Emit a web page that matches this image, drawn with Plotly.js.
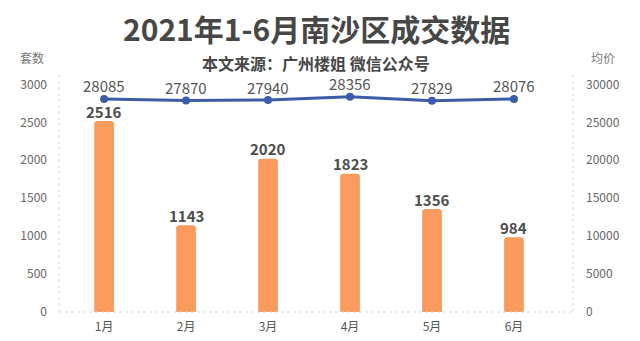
<!DOCTYPE html>
<html>
<head>
<meta charset="utf-8">
<script src="https://cdn.plot.ly/plotly-3.0.1.min.js"></script>
<style>html,body{margin:0;padding:0;background:#fff;}#chart{width:640px;height:341px;}</style>
</head>
<body>
<div id="chart"></div>
<script>
const months = ["1月","2月","3月","4月","5月","6月"];
const deals = [2516, 1143, 2020, 1823, 1356, 984];
const avgPrice = [28085, 27870, 27940, 28356, 27829, 28076];
const leftTicks = [0, 500, 1000, 1500, 2000, 2500, 3000];
const rightTicks = [0, 5000, 10000, 15000, 20000, 25000, 30000];

const FONT = '"Noto Sans CJK SC", "Noto Sans", sans-serif';

const bars = {
  type: 'bar', x: months, y: deals, yaxis: 'y',
  width: 0.24,
  marker: {color: '#fa9a5c', cornerradius: 3},
  hoverinfo: 'none'
};
const line = {
  type: 'scatter', mode: 'lines+markers', x: months, y: avgPrice, yaxis: 'y2',
  line: {color: '#3b5ca8', width: 3},
  marker: {color: '#3b5ca8', size: 8},
  cliponaxis: false,
  hoverinfo: 'none'
};

const barLabels = months.map((m, i) => ({
  x: m, y: deals[i], xref: 'x', yref: 'y', text: String(deals[i]),
  showarrow: false, xanchor: 'center', yanchor: 'middle', yshift: 10,
  font: {family: FONT, size: 15, color: '#4d4d4d', weight: 'bold'}
}));
const lineLabels = months.map((m, i) => ({
  x: m, y: avgPrice[i], xref: 'x', yref: 'y2', text: String(avgPrice[i]),
  showarrow: false, xanchor: 'center', yanchor: 'middle', yshift: 13,
  font: {family: FONT, size: 15, color: '#555555'}
}));

const layout = {
  width: 640, height: 341,
  margin: {l: 59, r: 67, t: 73, b: 29},
  paper_bgcolor: '#ffffff', plot_bgcolor: '#ffffff',
  showlegend: false,
  font: {family: FONT, color: '#666666', size: 12},
  xaxis: {range: [-0.55, 5.72], showgrid: false, zeroline: false, showline: false,
          ticks: '', ticklabelstandoff: 6, tickfont: {size: 12, color: '#555555'}, fixedrange: true},
  yaxis: {range: [0, 3150], tickvals: leftTicks, showgrid: false, zeroline: false, showline: false,
          ticks: '', ticklabelstandoff: 11, tickfont: {size: 12, color: '#666666'}},
  yaxis2: {range: [0, 31500], tickvals: rightTicks, ticktext: rightTicks.map(String),
           overlaying: 'y', side: 'right',
           showgrid: false, zeroline: false, showline: false, ticks: '', ticklabelstandoff: 12,
           tickfont: {size: 12, color: '#666666'}},
  shapes: [
    {type: 'line', xref: 'paper', yref: 'paper', x0: 0, x1: 1, y0: 0, y1: 0,
     line: {color: '#d5d5d5', width: 1, dash: 'dot'}},
    {type: 'line', xref: 'paper', yref: 'paper', x0: 0, x1: 0, y0: 0, y1: 1,
     line: {color: '#dddddd', width: 1, dash: 'dot'}},
    {type: 'line', xref: 'paper', yref: 'paper', x0: 1, x1: 1, y0: 0, y1: 1,
     line: {color: '#dddddd', width: 1, dash: 'dot'}}
  ],
  annotations: [
    {text: '2021年1-6月南沙区成交数据', xref: 'paper', yref: 'paper', x: 0.5, y: 1, yshift: 45,
     xanchor: 'center', yanchor: 'middle', showarrow: false, borderpad: 0,
     font: {family: FONT, size: 30, color: '#474747', weight: 'bold'}},
    {text: '本文来源：广州楼姐 微信公众号', xref: 'paper', yref: 'paper', x: 0.5, y: 1, yshift: 10,
     xanchor: 'center', yanchor: 'middle', showarrow: false, borderpad: 0,
     font: {family: FONT, size: 16, color: '#474747', weight: 'bold'}},
    {text: '套数', xref: 'paper', yref: 'paper', x: 0, xshift: -27, y: 1, yshift: 16,
     xanchor: 'center', yanchor: 'middle', showarrow: false,
     font: {family: FONT, size: 12, color: '#777777'}},
    {text: '均价', xref: 'paper', yref: 'paper', x: 1, xshift: 30, y: 1, yshift: 16,
     xanchor: 'center', yanchor: 'middle', showarrow: false,
     font: {family: FONT, size: 12, color: '#777777'}}
  ].concat(barLabels, lineLabels)
};

Plotly.newPlot('chart', [bars, line], layout, {displayModeBar: false, staticPlot: true});
</script>
</body>
</html>
